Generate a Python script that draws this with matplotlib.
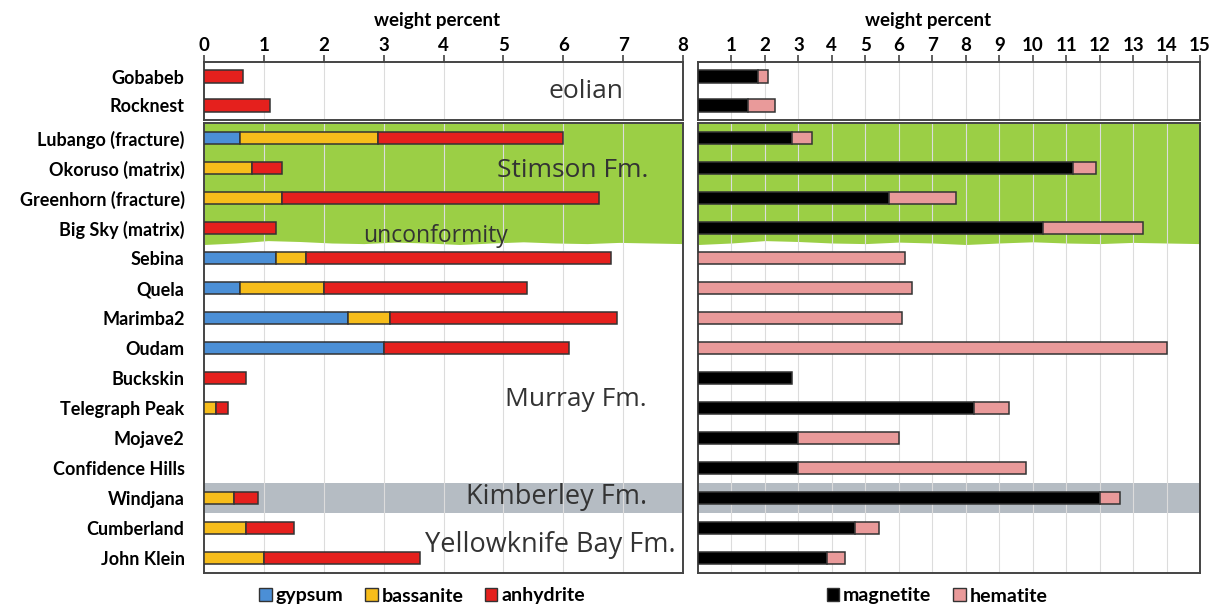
import numpy as np
import matplotlib
matplotlib.use("Agg")
import matplotlib.pyplot as plt
from matplotlib.patches import Patch

plt.rcParams['font.family'] = ['Lato', 'DejaVu Sans']

# ---- data ----
eolian_sites = ['Gobabeb', 'Rocknest']
sites = ['Lubango (fracture)', 'Okoruso (matrix)', 'Greenhorn (fracture)',
         'Big Sky (matrix)', 'Sebina', 'Quela', 'Marimba2', 'Oudam',
         'Buckskin', 'Telegraph Peak', 'Mojave2', 'Confidence Hills',
         'Windjana', 'Cumberland', 'John Klein']

# sulfates (wt%)
eol_gypsum = [0, 0]
eol_bassanite = [0, 0]
eol_anhydrite = [0.65, 1.1]
gypsum = [0.6, 0, 0, 0, 1.2, 0.6, 2.4, 3.0, 0, 0, 0, 0, 0, 0, 0]
bassanite = [2.3, 0.8, 1.3, 0, 0.5, 1.4, 0.7, 0, 0, 0.2, 0, 0, 0.5, 0.7, 1.0]
anhydrite = [3.1, 0.5, 5.3, 1.2, 5.1, 3.4, 3.8, 3.1, 0.7, 0.2, 0, 0, 0.4, 0.8, 2.6]

# iron oxides (wt%)
eol_magnetite = [1.8, 1.5]
eol_hematite = [0.3, 0.8]
magnetite = [2.8, 11.2, 5.7, 10.3, 0, 0, 0, 0, 2.8, 8.25, 3.0, 3.0, 12.0, 4.7, 3.85]
hematite = [0.6, 0.7, 2.0, 3.0, 6.2, 6.4, 6.1, 14.0, 0, 1.05, 3.0, 6.8, 0.6, 0.7, 0.55]

left_ticks = list(range(0, 9))
right_ticks = list(range(1, 16))

C_GYP = '#4b8fd6'
C_BAS = '#f7bd1b'
C_ANH = '#e5201d'
C_MAG = '#000000'
C_HEM = '#e99a9a'
C_GREEN = '#9bcf45'
C_GRAY = '#b5bcc3'
EDGE = '#333333'
FRAME = '#444444'

fig = plt.figure(figsize=(12.13, 6.05), dpi=100)
W, H = 1213, 605


def ax_at(x0, y0, x1, y1):
    return fig.add_axes([x0 / W, 1 - y1 / H, (x1 - x0) / W, (y1 - y0) / H])


axLt = ax_at(204, 62, 683, 120)
axLb = ax_at(204, 123, 683, 573)
axRt = ax_at(698, 62, 1200, 120)
axRb = ax_at(698, 123, 1200, 573)


def stack(ax, names, parts, colors):
    y = np.arange(len(names))
    left = np.zeros(len(names))
    for vals, c in zip(parts, colors):
        vals = np.array(vals, dtype=float)
        m = vals > 0
        ax.barh(y[m], vals[m], left=left[m], height=0.42, color=c,
                edgecolor=EDGE, linewidth=1.1, zorder=3)
        left += vals


def style(ax, n, xmax, ticks, top, label_x=0.5):
    ax.set_xlim(0, xmax)
    ax.set_ylim(n - 0.5, -0.5)
    for x in range(1, xmax):
        ax.axvline(x, color='#dcdcdc', lw=0.8, zorder=1)
    for s in ax.spines.values():
        s.set_color(FRAME)
        s.set_linewidth(1.4)
    ax.tick_params(axis='y', length=0)
    if top:
        ax.xaxis.tick_top()
        ax.set_xticks(ticks)
        ax.set_xticklabels([str(t) for t in ticks], fontweight='bold', fontsize=13.5)
        ax.tick_params(axis='x', direction='out', length=5, width=1.2,
                       color=FRAME, pad=1)
        ax.xaxis.set_label_position('top')
        ax.set_xlabel('weight percent', fontweight='bold', fontsize=13.5)
        ax.xaxis.set_label_coords(label_x, 1.0 + 36 / 58)
    else:
        ax.set_xticks([])


# green Stimson region with ragged lower edge, grey Kimberley band
edge_x = [0, 1, 2, 3, 4, 5, 6, 7, 8, 9, 10, 11, 12, 13, 14, 15]
edge_y = [3.55, 3.5, 3.42, 3.45, 3.5, 3.52, 3.47, 3.5, 3.55, 3.5, 3.46, 3.5, 3.52, 3.48, 3.5, 3.52]
for ax, xmax in [(axLb, 8), (axRb, 15)]:
    ex = np.array(edge_x) * xmax / 15
    ax.fill_between(ex, -0.5, edge_y, color=C_GREEN, lw=0, zorder=0)
    ax.axhspan(11.5, 12.5, color=C_GRAY, lw=0, zorder=0)

stack(axLt, eolian_sites, [eol_gypsum, eol_bassanite, eol_anhydrite], [C_GYP, C_BAS, C_ANH])
stack(axLb, sites, [gypsum, bassanite, anhydrite], [C_GYP, C_BAS, C_ANH])
stack(axRt, eolian_sites, [eol_magnetite, eol_hematite], [C_MAG, C_HEM])
stack(axRb, sites, [magnetite, hematite], [C_MAG, C_HEM])

style(axLt, 2, 8, left_ticks, True, label_x=0.487)
style(axLb, 15, 8, left_ticks, False)
style(axRt, 2, 15, right_ticks, True, label_x=0.458)
style(axRb, 15, 15, right_ticks, False)

for ax, names in [(axLt, eolian_sites), (axLb, sites)]:
    ax.set_yticks(range(len(names)))
    ax.set_yticklabels(names, fontweight='bold', fontsize=13)
    ax.tick_params(axis='y', pad=14)
for ax in (axRt, axRb):
    ax.set_yticks([])

tk = dict(family=['Open Sans', 'DejaVu Sans'], color='#333333', ha='center', va='center')
axLt.text(6.38, 0.5, 'eolian', fontsize=19, **tk)
axLb.text(6.16, 1.07, 'Stimson Fm.', fontsize=19, **tk)
axLb.text(3.86, 3.25, 'unconformity', fontsize=16.5, **tk)
axLb.text(6.21, 8.73, 'Murray Fm.', fontsize=19, **tk)
axLb.text(5.88, 11.97, 'Kimberley Fm.', fontsize=19.5, **tk)
axLb.text(5.78, 13.57, 'Yellowknife Bay Fm.', fontsize=19.5, **tk)

h1 = [Patch(facecolor=C_GYP, edgecolor=EDGE, label='gypsum'),
      Patch(facecolor=C_BAS, edgecolor=EDGE, label='bassanite'),
      Patch(facecolor=C_ANH, edgecolor=EDGE, label='anhydrite')]
h2 = [Patch(facecolor=C_MAG, edgecolor=EDGE, label='magnetite'),
      Patch(facecolor=C_HEM, edgecolor=EDGE, label='hematite')]
lp = dict(frameon=False, prop={'weight': 'bold', 'size': 14}, handlelength=0.65,
          handleheight=0.65, handletextpad=0.2, columnspacing=1.1, loc='center',
          borderpad=0)
fig.legend(handles=h1, ncol=3, bbox_to_anchor=(422 / W, 1 - 596 / H), **lp)
fig.legend(handles=h2, ncol=2, bbox_to_anchor=(937 / W, 1 - 596 / H), **lp)

fig.savefig('out.png', dpi=100)
